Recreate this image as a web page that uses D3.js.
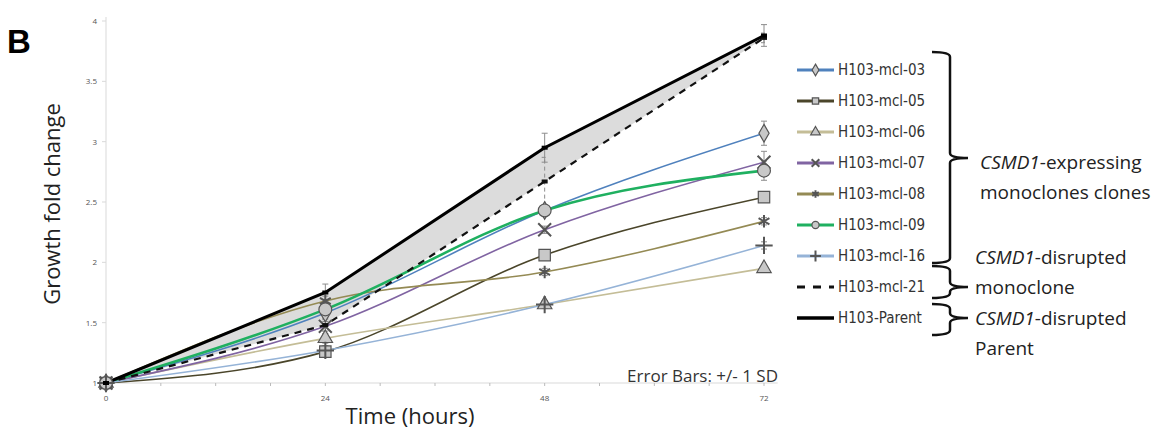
<!DOCTYPE html>
<html>
<head>
<meta charset="utf-8">
<script src="https://cdn.jsdelivr.net/npm/d3@7"></script>
<style>
  body { margin: 0; background: #fff; }
  svg { display: block; }
</style>
</head>
<body>
<div id="chart"></div>
<script>
// Growth fold change per clone
const hours = [0, 24, 48, 72]
const seriesNames = ['H103-mcl-03', 'H103-mcl-05', 'H103-mcl-06', 'H103-mcl-07',
  'H103-mcl-08', 'H103-mcl-09', 'H103-mcl-16', 'H103-mcl-21', 'H103-Parent']
const mcl03 = [1, 1.58, 2.43, 3.07]
const mcl05 = [1, 1.26, 2.06, 2.54]
const mcl06 = [1, 1.37, 1.65, 1.95]
const mcl07 = [1, 1.47, 2.27, 2.83]
const mcl08 = [1, 1.68, 1.92, 2.34]
const mcl09 = [1, 1.61, 2.43, 2.76]
const mcl16 = [1, 1.27, 1.65, 2.14]
const mcl21 = [1, 1.48, 2.67, 3.86]
const parent = [1, 1.75, 2.95, 3.88]
// standard deviations (error bars)
const sdParent = [0.01, 0.07, 0.12, 0.09]
const sdMcl21 = [0.01, 0.05, 0.2, 0.04]
const sdMcl03 = [0.01, 0.05, 0.04, 0.1]
const sdMcl07 = [0.01, 0.04, 0.03, 0.09]
const sdMcl09 = [0.01, 0.05, 0.04, 0.08]
const sdOther = [0.01, 0.04, 0.03, 0.03]
const yTicks = [1, 1.5, 2, 2.5, 3, 3.5, 4]
const xTicks = [0, 24, 48, 72]

const width = 1173
const height = 435

const svg = d3.select('#chart')
  .append('svg')
  .attr('width', width)
  .attr('height', height)
  .style('font-family', "'Open Sans', sans-serif")

const x = d3.scaleLinear().domain([0, 72]).range([106, 764])
const y = d3.scaleLinear().domain([1, 4]).range([383, 21])

const gray = '#d9d9d9'

// Panel letter
svg.append('text')
  .attr('x', 7)
  .attr('y', 53)
  .attr('font-size', '33px')
  .attr('font-weight', 'bold')
  .attr('font-family', "'Liberation Sans', Arial, sans-serif")
  .text('B')

// Axes
svg.append('line')
  .attr('x1', x(0)).attr('x2', x(0))
  .attr('y1', y(4) - 4).attr('y2', y(1))
  .attr('stroke', gray)
svg.append('line')
  .attr('x1', x(0)).attr('x2', x(73.5))
  .attr('y1', y(1)).attr('y2', y(1))
  .attr('stroke', gray)

yTicks.forEach(v => {
  svg.append('line')
    .attr('x1', x(0) - 4).attr('x2', x(0))
    .attr('y1', y(v)).attr('y2', y(v))
    .attr('stroke', gray)
  svg.append('text')
    .attr('x', x(0) - 9)
    .attr('y', y(v) + 3)
    .attr('text-anchor', 'end')
    .attr('font-size', '8px')
    .attr('fill', '#555')
    .text(v)
})

d3.range(0, 73, 6).forEach(h => {
  svg.append('line')
    .attr('x1', x(h)).attr('x2', x(h))
    .attr('y1', y(1)).attr('y2', y(1) + 3)
    .attr('stroke', '#bbb')
})
xTicks.forEach(h => {
  svg.append('text')
    .attr('x', x(h))
    .attr('y', 401)
    .attr('text-anchor', 'middle')
    .attr('font-size', '8px')
    .attr('fill', '#555')
    .text(h)
})

// Axis titles
svg.append('text')
  .attr('transform', 'translate(60,204) rotate(-90)')
  .attr('text-anchor', 'middle')
  .attr('font-size', '22px')
  .attr('fill', '#222')
  .text('Growth fold change')

svg.append('text')
  .attr('x', 410)
  .attr('y', 424)
  .attr('text-anchor', 'middle')
  .attr('font-size', '22px')
  .attr('fill', '#222')
  .text('Time (hours)')

svg.append('text')
  .attr('x', 778)
  .attr('y', 382)
  .attr('text-anchor', 'end')
  .attr('font-size', '17px')
  .attr('fill', '#333')
  .text('Error Bars: +/- 1 SD')

// Shaded area between parent and mcl-21
const area = d3.area()
  .x((d, i) => x(hours[i]))
  .y0((d, i) => y(mcl21[i]))
  .y1(d => y(d))
svg.append('path')
  .datum(parent)
  .attr('d', area)
  .attr('fill', '#dcdcdc')

const series = [
  { name: seriesNames[0], values: mcl03, sd: sdMcl03, color: '#4f81bd', width: 1.6, symbol: d3.symbolDiamond, size: 90 },
  { name: seriesNames[1], values: mcl05, sd: sdOther, color: '#4a452a', width: 1.6, symbol: d3.symbolSquare, size: 130 },
  { name: seriesNames[2], values: mcl06, sd: sdOther, color: '#c4bd97', width: 1.6, symbol: d3.symbolTriangle, size: 90 },
  { name: seriesNames[3], values: mcl07, sd: sdMcl07, color: '#8064a2', width: 1.6, symbol: d3.symbolTimes || d3.symbolCross, size: 110 },
  { name: seriesNames[4], values: mcl08, sd: sdOther, color: '#948a54', width: 1.6, symbol: d3.symbolAsterisk || d3.symbolCross, size: 110 },
  { name: seriesNames[5], values: mcl09, sd: sdMcl09, color: '#1fb060', width: 2.6, symbol: d3.symbolCircle, size: 130 },
  { name: seriesNames[6], values: mcl16, sd: sdOther, color: '#95b3d7', width: 1.6, symbol: d3.symbolPlus || d3.symbolCross, size: 100 },
  { name: seriesNames[7], values: mcl21, sd: sdMcl21, color: '#111', width: 2.2, dash: '7,6', symbol: null },
  { name: seriesNames[8], values: parent, sd: sdParent, color: '#000', width: 3, symbol: null }
]

const strokeSymbols = [d3.symbolTimes, d3.symbolAsterisk, d3.symbolPlus].filter(Boolean)

// Error bars
series.forEach(s => {
  s.values.forEach((v, i) => {
    if (i === 0) return
    const g = svg.append('g')
      .attr('stroke', '#8c8c8c')
      .attr('stroke-width', 1)
      .attr('stroke-dasharray', s.dash ? '4,3' : null)
    g.append('line')
      .attr('x1', x(hours[i])).attr('x2', x(hours[i]))
      .attr('y1', y(v - s.sd[i])).attr('y2', y(v + s.sd[i]))
    ;[v - s.sd[i], v + s.sd[i]].forEach(e => {
      g.append('line')
        .attr('x1', x(hours[i]) - 3).attr('x2', x(hours[i]) + 3)
        .attr('y1', y(e)).attr('y2', y(e))
        .attr('stroke-dasharray', null)
    })
  })
})

// Lines (coloured clones are smoothed like the original)
series.forEach(s => {
  const line = d3.line()
    .x((d, i) => x(hours[i]))
    .y(d => y(d))
    .curve(s.symbol ? d3.curveMonotoneX : d3.curveLinear)
  svg.append('path')
    .datum(s.values)
    .attr('d', line)
    .attr('fill', 'none')
    .attr('stroke', s.color)
    .attr('stroke-width', s.width)
    .attr('stroke-dasharray', s.dash || null)
})

function drawSymbol(parentSel, s, cx, cy, size) {
  const isStroke = strokeSymbols.includes(s.symbol)
  parentSel.append('path')
    .attr('d', d3.symbol().type(s.symbol).size(size))
    .attr('transform', `translate(${cx},${cy})`)
    .attr('fill', isStroke ? 'none' : '#c8c8c8')
    .attr('stroke', '#555')
    .attr('stroke-width', isStroke ? 2 : 1.2)
}

// Markers
series.forEach(s => {
  if (!s.symbol) {
    s.values.forEach((v, i) => {
      svg.append('rect')
        .attr('x', x(hours[i]) - 3).attr('y', y(v) - 2)
        .attr('width', 6).attr('height', 4)
        .attr('fill', s.color)
    })
    return
  }
  s.values.forEach((v, i) => drawSymbol(svg, s, x(hours[i]), y(v), s.size))
})

// Legend
const legend = svg.append('g')
  .attr('transform', 'translate(797,70)')
series.forEach((s, i) => {
  const row = legend.append('g').attr('transform', `translate(0,${i * 31})`)
  row.append('line')
    .attr('x1', 0).attr('x2', 37)
    .attr('y1', 0).attr('y2', 0)
    .attr('stroke', s.color)
    .attr('stroke-width', s.dash ? 3 : (s.symbol ? 3 : 3.5))
    .attr('stroke-dasharray', s.dash ? '8,8' : null)
  if (s.symbol) drawSymbol(row, s, 18.5, 0, 40)
  row.append('text')
    .attr('x', 41)
    .attr('y', 5)
    .attr('font-size', '15px')
    .attr('font-family', "'Liberation Sans Narrow', 'DejaVu Sans Condensed', sans-serif")
    .attr('fill', '#333')
    .text(s.name)
})

// Curly braces
function brace(x0, y1, y2, tipY, w) {
  const xm = x0 + w / 2
  const xt = x0 + w
  const r = 5
  return `M${x0},${y1} Q${xm},${y1} ${xm},${y1 + r} L${xm},${tipY - r} Q${xm},${tipY} ${xt},${tipY}` +
    ` Q${xm},${tipY} ${xm},${tipY + r} L${xm},${y2 - r} Q${xm},${y2} ${x0},${y2}`
}
const braces = [
  { y1: 52, y2: 263, tip: 158 },
  { y1: 266, y2: 298, tip: 287 },
  { y1: 304, y2: 335, tip: 318 }
]
braces.forEach(b => {
  svg.append('path')
    .attr('d', brace(932, b.y1, b.y2, b.tip, 36))
    .attr('fill', 'none')
    .attr('stroke', '#111')
    .attr('stroke-width', 2.5)
})

const notes = [
  { x: 980, y: 169, gene: 'CSMD1', rest: '-expressing' },
  { x: 980, y: 199, gene: '', rest: 'monoclones clones' },
  { x: 975, y: 264, gene: 'CSMD1', rest: '-disrupted' },
  { x: 975, y: 294, gene: '', rest: 'monoclone' },
  { x: 975, y: 325, gene: 'CSMD1', rest: '-disrupted' },
  { x: 975, y: 355, gene: '', rest: 'Parent' }
]
notes.forEach(n => {
  const t = svg.append('text')
    .attr('x', n.x)
    .attr('y', n.y)
    .attr('font-size', '19px')
    .attr('fill', '#222')
  if (n.gene) t.append('tspan').attr('font-style', 'italic').text(n.gene)
  t.append('tspan').text(n.rest)
})
</script>
</body>
</html>
